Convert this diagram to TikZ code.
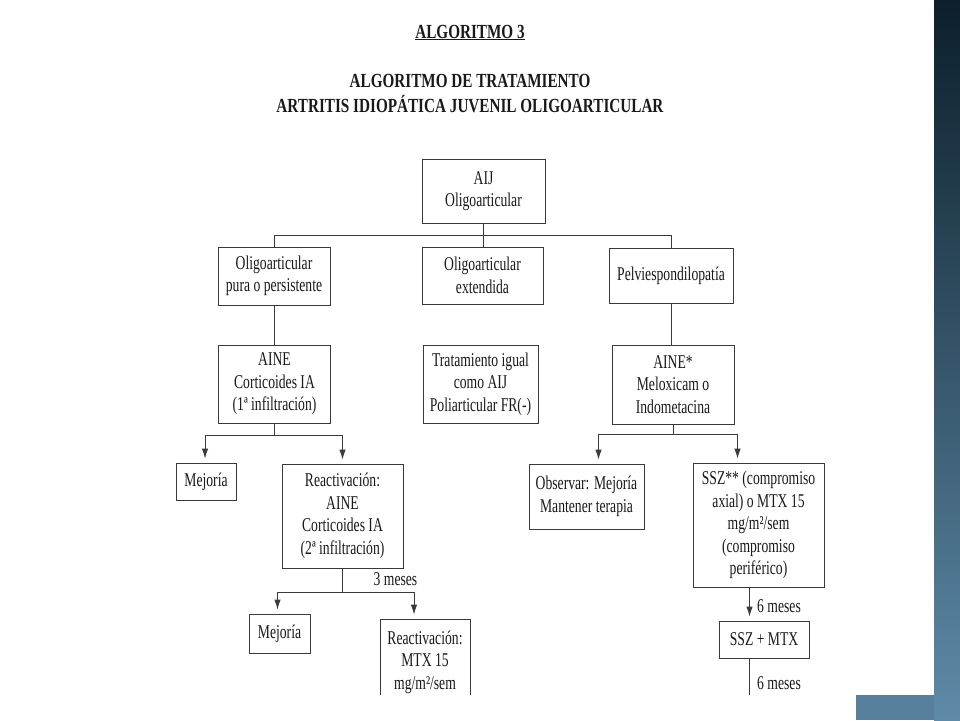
\documentclass[tikz,border=0pt]{standalone}
\usepackage{fontspec}
\setmainfont{Liberation Serif}
\newfontfamily\cajafont{Liberation Serif}[FakeStretch=0.7]
\newfontfamily\titulofont{Liberation Serif}[FakeStretch=0.76]
\usetikzlibrary{arrows.meta}
\definecolor{linea}{HTML}{3A3A3A}
\definecolor{barraarriba}{HTML}{0C1F2B}
\definecolor{barraabajo}{HTML}{5E8BA8}
\tikzset{
	caja/.style={draw=linea, line width=0.9pt, align=center, inner sep=0pt, text=black!90, font=\cajafont\fontsize{19.5}{22.5}\selectfont},
	etiqueta/.style={inner sep=0pt, text=black!90, font=\cajafont\fontsize{19.5}{22.5}\selectfont},
	titulo/.style={inner sep=0pt, text=black!90, font=\titulofont\bfseries\fontsize{20}{24}\selectfont},
	conector/.style={draw=linea, line width=0.9pt},
	flecha/.style={conector, -{Latex[length=10pt,width=6.5pt]}, shorten >=4pt},
}

\begin{document}
\begin{tikzpicture}[x=1pt,y=-1pt]
		\useasboundingbox (0,0) rectangle (960,720);
		% side bar of the slide
		\shade[top color=barraarriba, bottom color=barraabajo] (934,0) rectangle (960,720);
		\fill[barraabajo!92!black] (856,695) rectangle (934,720);
		% titles
		\node[titulo, anchor=base] (tit1) at (470,38) {\underline{ALGORITMO 3}};
		\node[titulo, anchor=base] (tit2) at (470,87) {ALGORITMO DE TRATAMIENTO};
		\node[titulo, anchor=base] (tit3) at (470,112) {ARTRITIS IDIOPÁTICA JUVENIL OLIGOARTICULAR};
		\begin{scope}
		\clip (0,0) rectangle (934,694);
		% boxes
		\node[caja, minimum width=123pt, minimum height=64pt] (aij) at (483.5,191) {AIJ\\Oligoarticular};
		\node[caja, minimum width=112pt, minimum height=58pt] (pura) at (274,276) {Oligoarticular\\pura o persistente};
		\node[caja, minimum width=121pt, minimum height=57pt] (extendida) at (482.5,275.5) {Oligoarticular\\extendida};
		\node[caja, minimum width=124pt, minimum height=55pt] (pelvis) at (671,275.5) {Pelviespondilopatía};
		\node[caja, minimum width=112pt, minimum height=78pt] (aine1) at (274.5,384) {AINE\\Corticoides IA\\(1ª infiltración)};
		\node[caja, minimum width=115pt, minimum height=78pt] (tratamiento) at (480.5,384) {Tratamiento igual\\como AIJ\\Poliarticular FR(-)};
		\node[caja, minimum width=122pt, minimum height=79pt] (aine2) at (673,384.5) {AINE*\\Meloxicam o\\Indometacina};
		\node[caja, minimum width=60pt, minimum height=37pt] (mejoria1) at (206,481.5) {Mejoría};
		\node[caja, minimum width=121pt, minimum height=104pt] (reactiv1) at (342.5,516) {Reactivación:\\AINE\\Corticoides IA\\(2ª infiltración)};
		\node[caja, minimum width=115pt, minimum height=65pt] (observar) at (586.5,496.5) {Observar: Mejoría\\Mantener terapia};
		\node[caja, minimum width=131pt, minimum height=124pt] (ssz) at (758.5,525) {SSZ** (compromiso\\axial) o MTX 15\\mg/m²/sem\\(compromiso\\periférico)};
		\node[caja, minimum width=61pt, minimum height=39pt] (mejoria2) at (279.5,633.5) {Mejoría};
		\node[caja, minimum width=90pt, minimum height=86pt] (reactiv2) at (425,662) {Reactivación:\\MTX 15\\mg/m²/sem};
		\node[caja, minimum width=90pt, minimum height=37pt] (sszmtx) at (764,639.5) {SSZ + MTX};
		% first level
		\coordinate (bus) at ([yshift=-12pt]aij.south);
		\draw[conector] (aij.south) -- (aij.south |- extendida.north);
		\draw[conector] (pura.north) |- (bus) -| (pelvis.north);
		\draw[conector] (pura.south) -- (pura.south |- aine1.north);
		\draw[conector] (pelvis.south) -- (pelvis.south |- aine2.north);
		% left branch
		\coordinate (rama1) at ([yshift=-12pt]aine1.south);
		\draw[conector] (aine1.south) -- (rama1);
		\draw[flecha] (rama1) -| ([xshift=-1pt]mejoria1.north);
		\draw[flecha] (rama1) -| (reactiv1.north);
		\coordinate (rama3) at ([yshift=-24pt]reactiv1.south);
		\draw[conector] (reactiv1.south) -- (rama3);
		\node[etiqueta, anchor=base west] (tres) at ([xshift=31pt,yshift=7pt]rama3) {3 meses};
		\draw[flecha] (rama3) -| ([xshift=-2pt]mejoria2.north);
		\draw[flecha] (rama3) -| ([xshift=-11pt]reactiv2.north);
		% right branch
		\coordinate (rama2) at ([yshift=-10pt]aine2.south);
		\draw[conector] (aine2.south) -- (rama2);
		\draw[flecha] (rama2) -| ([xshift=12pt]observar.north);
		\draw[flecha] (rama2) -| ([xshift=-21pt]ssz.north);
		\draw[flecha] ([xshift=-9pt]ssz.south) -- ([xshift=-9pt]ssz.south |- sszmtx.north);
		\node[etiqueta, anchor=base west] (seis1) at (757,612) {6 meses};
		\coordinate (fin) at ([xshift=-15pt,yshift=-40pt]sszmtx.south);
		\draw[conector] ([xshift=-15pt]sszmtx.south) -- (fin);
		\node[etiqueta, anchor=base west] (seis2) at (757,689) {6 meses};
		\end{scope}
	\end{tikzpicture}
\end{document}
